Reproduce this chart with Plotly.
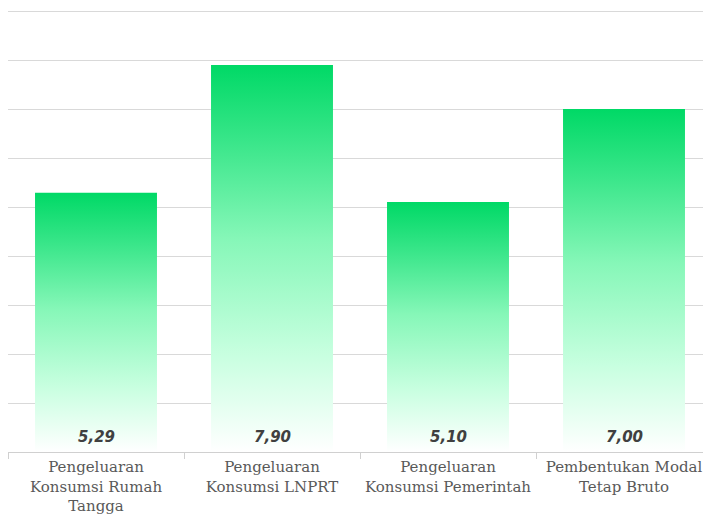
import plotly.graph_objects as go

categories = ["Pengeluaran<br>Konsumsi Rumah<br>Tangga", "Pengeluaran<br>Konsumsi LNPRT",
              "Pengeluaran<br>Konsumsi Pemerintah", "Pembentukan Modal<br>Tetap Bruto"]
values = [5.29, 7.90, 5.10, 7.00]
value_labels = ["5,29", "7,90", "5,10", "7,00"]

bar_w = 0.693
fig = go.Figure()
for i, v in enumerate(values):
    x0, x1 = i - bar_w / 2, i + bar_w / 2
    fig.add_trace(go.Scatter(
        x=[x0, x1, x1, x0, x0], y=[0, 0, v, v, 0],
        mode="lines", line=dict(width=0), fill="toself",
        fillgradient=dict(type="vertical",
                          colorscale=[[0, "#ffffff"], [0.25, "#c8ffe0"], [0.55, "#86f7b8"],
                                      [0.8, "#3ae68a"], [1, "#00d966"]]),
        hoverinfo="skip", showlegend=False))

for i, t in enumerate(value_labels):
    fig.add_annotation(x=i, y=0, text=f"<b><i>{t}</i></b>", showarrow=False,
                       yanchor="bottom", yshift=4,
                       font=dict(family="DejaVu Sans", size=15, color="#404040"))

fig.update_layout(
    width=703, height=515, margin=dict(l=8, r=0, t=0, b=63),
    plot_bgcolor="white", paper_bgcolor="white",
    xaxis=dict(range=[-0.5, -0.5 + 695 / 176], tickvals=list(range(len(categories))),
               ticktext=categories, showgrid=False, zeroline=False, automargin=False,
               showline=True, linecolor="#d0d0d0", linewidth=1, ticks="",
               ticklabelstandoff=1,
               tickfont=dict(family="DejaVu Serif", size=15, color="#595959"),
               minor=dict(tickvals=[-0.5, 0.5, 1.5, 2.5], ticks="outside", ticklen=6,
                          tickcolor="#d0d0d0", showgrid=False),
               fixedrange=True),
    yaxis=dict(range=[0, 452 / 49], dtick=1, showgrid=True, gridcolor="#d9d9d9", gridwidth=1,
               showticklabels=False, zeroline=False, automargin=False, fixedrange=True),
)
fig.write_html(
    "out.html",
    config={"displayModeBar": False},
    post_script=("document.body.style.margin='0';"
                 "document.body.style.overflow='hidden';"
                 "document.documentElement.style.overflow='hidden';"),
)
